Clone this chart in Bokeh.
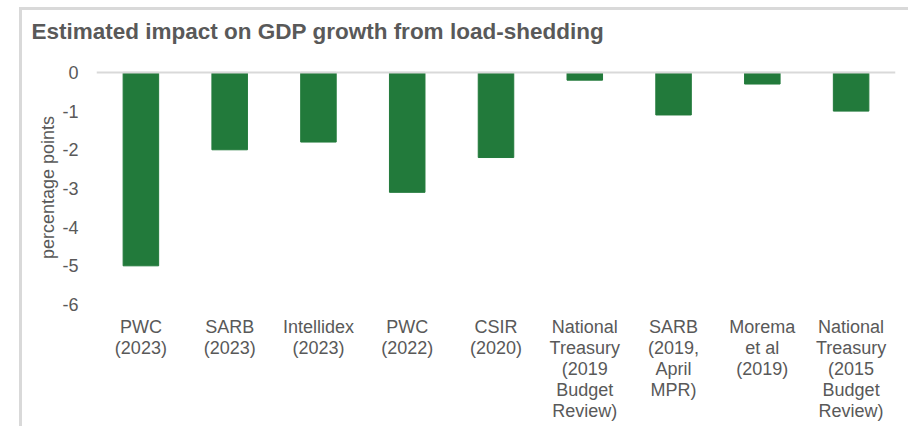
from bokeh.plotting import figure
from bokeh.models import Range1d, Span, FixedTicker, Spacer
from bokeh.layouts import column, row
from bokeh.embed import file_html
from bokeh.resources import INLINE

categories = ["PWC\n(2023)", "SARB\n(2023)", "Intellidex\n(2023)", "PWC\n(2022)", "CSIR\n(2020)",
              "National\nTreasury\n(2019\nBudget\nReview)", "SARB\n(2019,\nApril\nMPR)",
              "Morema\net al\n(2019)", "National\nTreasury\n(2015\nBudget\nReview)"]
values = [-5.0, -2.0, -1.8, -3.1, -2.2, -0.2, -1.1, -0.3, -1.0]
y_ticks = [0, -1, -2, -3, -4, -5, -6]
y_tick_labels = ["0", "-1", "-2", "-3", "-4", "-5", "-6"]
title_text = "Estimated impact on GDP growth from load-shedding"

TXT = "#595959"
FONT = "Liberation Sans"
FRAME = "#d9d9d9"

# title strip: a small empty figure whose title sits in its top border
t = figure(width=886, height=48, x_range=Range1d(0, 1), y_range=Range1d(0, 1),
           x_axis_type=None, y_axis_type=None, output_backend="svg", toolbar_location=None,
           min_border_left=74, min_border_right=13, min_border_top=33, min_border_bottom=0)
t.outline_line_color = None
t.xgrid.grid_line_color = None
t.ygrid.grid_line_color = None
t.title.text = title_text
t.title.text_font = FONT
t.title.text_font_size = "22.5px"
t.title.text_font_style = "bold"
t.title.text_color = TXT
t.title.align = "left"
t.title.offset = -65
t.title.standoff = 0

p = figure(x_range=categories, y_range=Range1d(-6, 0.05), width=886, height=368,
           output_backend="svg", toolbar_location=None,
           min_border_left=74, min_border_right=13, min_border_top=12, min_border_bottom=122)

p.vbar(x=categories, top=values, bottom=0, width=0.4, fill_color="#227A3B", line_color="#227A3B")

p.add_layout(Span(location=0, dimension="width", line_color=FRAME, line_width=2))

p.outline_line_color = None
p.xgrid.grid_line_color = None
p.ygrid.grid_line_color = None

p.yaxis.ticker = FixedTicker(ticks=y_ticks)
p.yaxis.major_label_overrides = dict(zip(y_ticks, y_tick_labels))
p.yaxis.axis_line_color = None
p.yaxis.major_tick_line_color = None
p.yaxis.major_tick_out = 0
p.yaxis.major_tick_in = 0
p.yaxis.minor_tick_line_color = None
p.yaxis.major_label_standoff = 18
p.yaxis.major_label_text_font = FONT
p.yaxis.major_label_text_font_size = "18px"
p.yaxis.major_label_text_color = TXT
p.yaxis.axis_label = "percentage points"
p.yaxis.axis_label_text_font = FONT
p.yaxis.axis_label_text_font_size = "18px"
p.yaxis.axis_label_text_font_style = "normal"
p.yaxis.axis_label_text_color = TXT
p.yaxis.axis_label_standoff = 1

p.xaxis.axis_line_color = None
p.xaxis.major_tick_line_color = None
p.xaxis.major_tick_out = 0
p.xaxis.major_tick_in = 0
p.xaxis.minor_tick_line_color = None
p.xaxis.major_label_standoff = 12
p.xaxis.major_label_text_font = FONT
p.xaxis.major_label_text_font_size = "18px"
p.xaxis.major_label_text_line_height = 1.05
p.xaxis.major_label_text_color = TXT
p.xaxis.major_label_orientation = "horizontal"

# outer chart frame: top and left edges
top_edge = Spacer(width=889, height=3, margin=(7, 0, 0, 19), styles={"background-color": FRAME})
left_edge = Spacer(width=3, height=416, margin=(0, 0, 0, 19), styles={"background-color": FRAME})
layout = column(top_edge, row(left_edge, column(t, p, spacing=0), spacing=0), spacing=0)

open("out.html", "w").write(file_html(layout, INLINE))
